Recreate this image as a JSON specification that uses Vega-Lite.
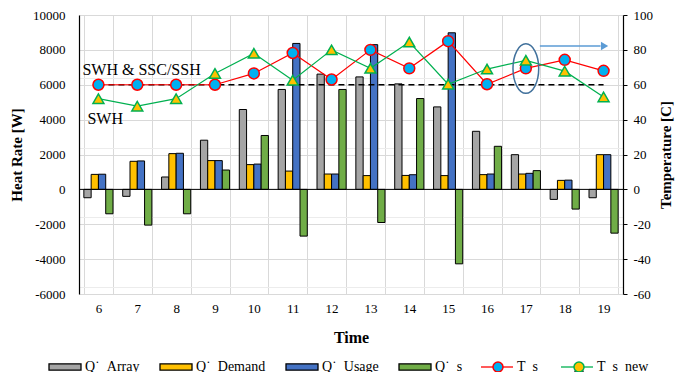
{
  "$schema": "https://vega.github.io/schema/vega-lite/v6.json",
  "width": 544,
  "height": 279,
  "autosize": {"type": "none"},
  "padding": {"left": 79, "top": 15, "right": 55, "bottom": 78},
  "background": "white",
  "config": {
    "font": "Liberation Serif",
    "view": {"stroke": null},
    "axis": {"labelColor": "#000", "titleColor": "#000", "labelFont": "Liberation Serif", "titleFont": "Liberation Serif", "labelOverlap": false},
    "legend": {"labelFont": "Liberation Serif", "labelFontSize": 14, "labelColor": "#000", "padding": 0, "title": null}
  },
  "datasets": {
    "bars": [
      {"hour": 6, "series": "Array", "value": -480}, {"hour": 6, "series": "Demand", "value": 860}, {"hour": 6, "series": "Usage", "value": 870}, {"hour": 6, "series": "s", "value": -1400},
      {"hour": 7, "series": "Array", "value": -400}, {"hour": 7, "series": "Demand", "value": 1610}, {"hour": 7, "series": "Usage", "value": 1630}, {"hour": 7, "series": "s", "value": -2050},
      {"hour": 8, "series": "Array", "value": 710}, {"hour": 8, "series": "Demand", "value": 2050}, {"hour": 8, "series": "Usage", "value": 2070}, {"hour": 8, "series": "s", "value": -1400},
      {"hour": 9, "series": "Array", "value": 2820}, {"hour": 9, "series": "Demand", "value": 1650}, {"hour": 9, "series": "Usage", "value": 1650}, {"hour": 9, "series": "s", "value": 1110},
      {"hour": 10, "series": "Array", "value": 4580}, {"hour": 10, "series": "Demand", "value": 1420}, {"hour": 10, "series": "Usage", "value": 1450}, {"hour": 10, "series": "s", "value": 3090},
      {"hour": 11, "series": "Array", "value": 5730}, {"hour": 11, "series": "Demand", "value": 1050}, {"hour": 11, "series": "Usage", "value": 8370}, {"hour": 11, "series": "s", "value": -2680},
      {"hour": 12, "series": "Array", "value": 6610}, {"hour": 12, "series": "Demand", "value": 880}, {"hour": 12, "series": "Usage", "value": 880}, {"hour": 12, "series": "s", "value": 5730},
      {"hour": 13, "series": "Array", "value": 6450}, {"hour": 13, "series": "Demand", "value": 790}, {"hour": 13, "series": "Usage", "value": 8300}, {"hour": 13, "series": "s", "value": -1900},
      {"hour": 14, "series": "Array", "value": 6050}, {"hour": 14, "series": "Demand", "value": 800}, {"hour": 14, "series": "Usage", "value": 840}, {"hour": 14, "series": "s", "value": 5210},
      {"hour": 15, "series": "Array", "value": 4730}, {"hour": 15, "series": "Demand", "value": 790}, {"hour": 15, "series": "Usage", "value": 8980}, {"hour": 15, "series": "s", "value": -4270},
      {"hour": 16, "series": "Array", "value": 3330}, {"hour": 16, "series": "Demand", "value": 845}, {"hour": 16, "series": "Usage", "value": 880}, {"hour": 16, "series": "s", "value": 2470},
      {"hour": 17, "series": "Array", "value": 1990}, {"hour": 17, "series": "Demand", "value": 880}, {"hour": 17, "series": "Usage", "value": 920}, {"hour": 17, "series": "s", "value": 1075},
      {"hour": 18, "series": "Array", "value": -575}, {"hour": 18, "series": "Demand", "value": 517}, {"hour": 18, "series": "Usage", "value": 530}, {"hour": 18, "series": "s", "value": -1130},
      {"hour": 19, "series": "Array", "value": -480}, {"hour": 19, "series": "Demand", "value": 1990}, {"hour": 19, "series": "Usage", "value": 1990}, {"hour": 19, "series": "s", "value": -2510}
    ],
    "temps": [
      {"hour": 6, "series": "Ts", "temp": 60}, {"hour": 7, "series": "Ts", "temp": 60}, {"hour": 8, "series": "Ts", "temp": 60}, {"hour": 9, "series": "Ts", "temp": 60},
      {"hour": 10, "series": "Ts", "temp": 66.5}, {"hour": 11, "series": "Ts", "temp": 78.2}, {"hour": 12, "series": "Ts", "temp": 63}, {"hour": 13, "series": "Ts", "temp": 80},
      {"hour": 14, "series": "Ts", "temp": 69.4}, {"hour": 15, "series": "Ts", "temp": 85}, {"hour": 16, "series": "Ts", "temp": 60.3}, {"hour": 17, "series": "Ts", "temp": 69.4},
      {"hour": 18, "series": "Ts", "temp": 74.3}, {"hour": 19, "series": "Ts", "temp": 68},
      {"hour": 6, "series": "Tsnew", "temp": 52}, {"hour": 7, "series": "Tsnew", "temp": 47.7}, {"hour": 8, "series": "Tsnew", "temp": 52}, {"hour": 9, "series": "Tsnew", "temp": 66.5},
      {"hour": 10, "series": "Tsnew", "temp": 78}, {"hour": 11, "series": "Tsnew", "temp": 62.6}, {"hour": 12, "series": "Tsnew", "temp": 80}, {"hour": 13, "series": "Tsnew", "temp": 69.4},
      {"hour": 14, "series": "Tsnew", "temp": 84.5}, {"hour": 15, "series": "Tsnew", "temp": 60.3}, {"hour": 16, "series": "Tsnew", "temp": 69}, {"hour": 17, "series": "Tsnew", "temp": 74},
      {"hour": 18, "series": "Tsnew", "temp": 67.8}, {"hour": 19, "series": "Tsnew", "temp": 53}
    ]
  },
  "layer": [
    {
      "layer": [
        {
          "data": {"name": "bars"},
          "mark": {"type": "bar", "stroke": "#000", "strokeWidth": 1},
          "encoding": {
            "x": {
              "field": "hour", "type": "ordinal",
              "scale": {"paddingInner": 0.25, "paddingOuter": 0.125},
              "axis": {"title": "Time", "labelAngle": 0, "domain": false, "ticks": false, "grid": true, "tickBand": "extent", "gridColor": "#d9d9d9", "labelFontSize": 13, "labelPadding": 8, "titleFontSize": 16, "titleFontWeight": "bold", "titlePadding": 14}
            },
            "xOffset": {"field": "series", "type": "nominal", "sort": ["Array", "Demand", "Usage", "s"]},
            "y": {
              "field": "value", "type": "quantitative",
              "scale": {"domain": [-6000, 10000], "nice": false, "zero": false},
              "axis": {
                "title": null, "labels": false, "ticks": false, "domain": false,
                "grid": true, "gridColor": "#ececec",
                "values": [-5600, -5200, -4800, -4400, -3600, -3200, -2800, -2400, -1600, -1200, -800, -400, 400, 800, 1200, 1600, 2400, 2800, 3200, 3600, 4400, 4800, 5200, 5600, 6400, 6800, 7200, 7600, 8400, 8800, 9200, 9600]
              }
            },
            "fill": {
              "field": "series", "type": "nominal",
              "scale": {"domain": ["Array", "Demand", "Usage", "s"], "range": ["#a5a5a5", "#ffc000", "#4472c4", "#70ad47"]},
              "legend": {
                "orient": "none", "legendX": -31, "legendY": 335, "direction": "horizontal",
                "symbolSize": 1024, "symbolType": "M-1,-0.2H1V0.2H-1Z", "symbolStrokeWidth": 1.3,
                "columnPadding": 17, "labelOffset": 3,
                "labelExpr": "{'Array':'Q\u02d9\u00a0\u00a0Array','Demand':'Q\u02d9\u00a0\u00a0Demand','Usage':'Q\u02d9\u00a0\u00a0Usage','s':'Q\u02d9\u00a0\u00a0s'}[datum.value]"
              }
            }
          }
        },
        {
          "data": {"values": [{}]},
          "mark": {"type": "rule", "color": "#000", "strokeWidth": 1},
          "encoding": {"y": {"datum": 0, "type": "quantitative"}}
        },
        {
          "data": {"values": [{}]},
          "mark": {"type": "rule", "color": "#000", "strokeWidth": 1.5, "strokeDash": [6, 4]},
          "encoding": {"x": {"datum": 6, "type": "ordinal"}, "x2": {"datum": 19}, "y": {"datum": 6000, "type": "quantitative"}}
        },
        {
          "data": {"values": [{"label": "SWH & SSC/SSH", "hour": 6, "v": 6840}]},
          "mark": {"type": "text", "align": "left", "baseline": "middle", "fontSize": 16, "font": "Liberation Serif", "color": "#000", "dx": -16},
          "encoding": {"x": {"field": "hour", "type": "ordinal"}, "y": {"field": "v", "type": "quantitative"}, "text": {"field": "label"}}
        },
        {
          "data": {"values": [{"label": "SWH", "hour": 6, "v": 4060}]},
          "mark": {"type": "text", "align": "left", "baseline": "middle", "fontSize": 16, "font": "Liberation Serif", "color": "#000", "dx": -11},
          "encoding": {"x": {"field": "hour", "type": "ordinal"}, "y": {"field": "v", "type": "quantitative"}, "text": {"field": "label"}}
        }
      ]
    },
    {
      "data": {"name": "temps"},
      "encoding": {
        "x": {"field": "hour", "type": "ordinal"},
        "y": {
          "field": "temp", "type": "quantitative",
          "scale": {"domain": [-60, 100], "nice": false, "zero": false},
          "axis": {
            "orient": "right", "title": "Temperature [C]",
            "values": [-60, -40, -20, 0, 20, 40, 60, 80, 100],
            "labelExpr": "'' + datum.value",
            "grid": false, "tickSize": 4, "tickColor": "#000",
            "domainColor": "#000", "domainWidth": 1.2, "labelPadding": 6, "labelFontSize": 13,
            "titleFontSize": 15, "titleFontWeight": "bold", "titleAngle": 270, "titleBaseline": "top", "titlePadding": 6
          }
        }
      },
      "layer": [
        {
          "mark": {"type": "line", "strokeWidth": 1.2},
          "encoding": {
            "stroke": {
              "field": "series", "type": "nominal",
              "scale": {"domain": ["Ts", "Tsnew"], "range": ["#ff0000", "#00b050"]},
              "legend": {
                "orient": "none", "legendX": 401, "legendY": 335, "direction": "horizontal",
                "symbolSize": 1024, "symbolType": "stroke", "symbolStrokeWidth": 1.3,
                "columnPadding": 20, "labelOffset": 3,
                "labelExpr": "{'Ts':'T\u00a0\u00a0s','Tsnew':'T\u00a0\u00a0s\u00a0\u00a0new'}[datum.value]"
              }
            }
          }
        },
        {
          "data": {"values": [{"hour": 17, "t": 69.3}]},
          "mark": {"type": "point", "shape": "M0,-1A0.52,1 0 1,0 0,1A0.52,1 0 1,0 0,-1Z", "filled": false, "size": 2450, "stroke": "#41719c", "strokeWidth": 1.5, "opacity": 1},
          "encoding": {"x": {"field": "hour", "type": "ordinal"}, "y": {"field": "t", "type": "quantitative"}}
        },
        {
          "data": {"values": [{"hour": 17, "hour2": 19, "t": 82.2}]},
          "mark": {"type": "rule", "color": "#5b9bd5", "strokeWidth": 1.5, "xOffset": 14, "x2Offset": -3},
          "encoding": {"x": {"field": "hour", "type": "ordinal"}, "x2": {"field": "hour2"}, "y": {"field": "t", "type": "quantitative"}}
        },
        {
          "data": {"values": [{"hour": 19, "t": 82.2}]},
          "mark": {"type": "point", "shape": "triangle-right", "filled": true, "size": 70, "color": "#5b9bd5", "opacity": 1, "xOffset": 1},
          "encoding": {"x": {"field": "hour", "type": "ordinal"}, "y": {"field": "t", "type": "quantitative"}}
        }
      ]
    },
    {
      "data": {"name": "temps"},
      "mark": {"type": "point", "filled": true, "size": 120, "strokeWidth": 1.5, "opacity": 1},
      "encoding": {
        "x": {"field": "hour", "type": "ordinal"},
        "y": {
          "field": "temp", "type": "quantitative",
          "scale": {"domain": [-60, 100], "nice": false, "zero": false},
          "axis": {
            "orient": "left", "title": "Heat Rate [W]",
            "values": [-60, -40, -20, 0, 20, 40, 60, 80, 100],
            "labelExpr": "'' + (datum.value * 100)",
            "labelOverlap": false,
            "grid": true, "gridColor": "#d9d9d9",
            "ticks": false, "domainColor": "#000", "domainWidth": 1.2,
            "labelFontSize": 13, "labelPadding": 14,
            "titleFontSize": 15, "titleFontWeight": "bold", "titlePadding": 8
          }
        },
        "shape": {
          "field": "series", "type": "nominal",
          "scale": {"domain": ["Ts", "Tsnew"], "range": ["circle", "triangle-up"]},
          "legend": {
            "orient": "none", "legendX": 412, "legendY": 345, "direction": "horizontal",
            "symbolSize": 100, "symbolStrokeWidth": 1.5,
            "columnPadding": 31, "labelOffset": 14, "labelOpacity": 0,
            "labelExpr": "{'Ts':'T\u00a0\u00a0s','Tsnew':'T\u00a0\u00a0s\u00a0\u00a0new'}[datum.value]"
          }
        },
        "fill": {
          "field": "series", "type": "nominal",
          "scale": {"domain": ["Ts", "Tsnew"], "range": ["#00b0f0", "#ffc000"]},
          "legend": {
            "orient": "none", "legendX": 412, "legendY": 345, "direction": "horizontal",
            "symbolSize": 100, "symbolStrokeWidth": 1.5,
            "columnPadding": 31, "labelOffset": 14, "labelOpacity": 0,
            "labelExpr": "{'Ts':'T\u00a0\u00a0s','Tsnew':'T\u00a0\u00a0s\u00a0\u00a0new'}[datum.value]"
          }
        },
        "stroke": {
          "field": "series", "type": "nominal",
          "scale": {"domain": ["Ts", "Tsnew"], "range": ["#ff0000", "#00b050"]},
          "legend": {
            "orient": "none", "legendX": 412, "legendY": 345, "direction": "horizontal",
            "symbolSize": 100, "symbolStrokeWidth": 1.5,
            "columnPadding": 31, "labelOffset": 14, "labelOpacity": 0,
            "labelExpr": "{'Ts':'T\u00a0\u00a0s','Tsnew':'T\u00a0\u00a0s\u00a0\u00a0new'}[datum.value]"
          }
        }
      }
    }
  ],
  "resolve": {"scale": {"y": "independent", "fill": "independent", "stroke": "independent"}}
}
